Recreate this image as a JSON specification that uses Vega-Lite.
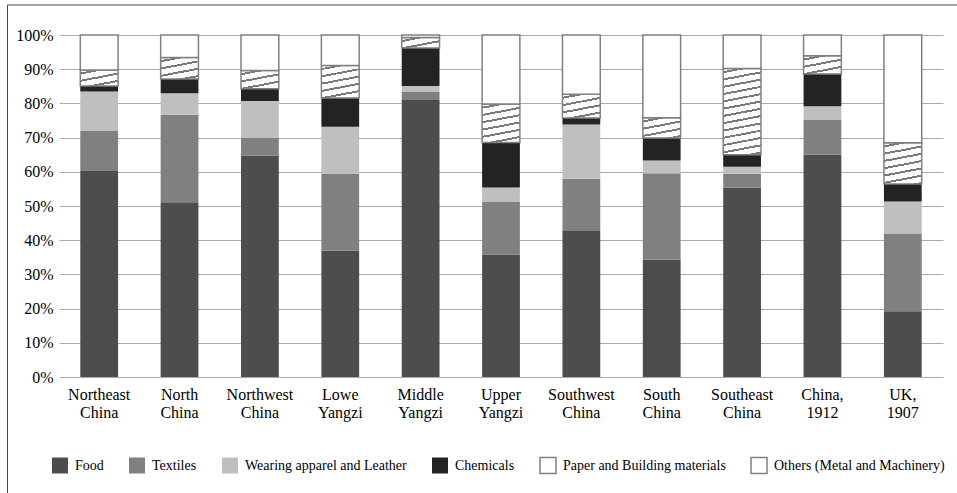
{
  "$schema": "https://vega.github.io/schema/vega-lite/v6.json",
  "autosize": {"type": "none"},
  "width": 884,
  "height": 342,
  "padding": {"left": 59, "top": 35, "right": 14, "bottom": 116},
  "background": "#ffffff",
  "config": {"view": {"stroke": null}, "font": "Liberation Serif"},
  "datasets": {
    "categories": [
      {"category": "Food", "rank": 1},
      {"category": "Textiles", "rank": 2},
      {"category": "Wearing apparel and Leather", "rank": 3},
      {"category": "Chemicals", "rank": 4},
      {"category": "Paper and Building materials", "rank": 5},
      {"category": "Others (Metal and Machinery)", "rank": 6}
    ]
  },
  "data": {"values": [
    {"region": "Northeast China", "category": "Food", "share": 60.2},
    {"region": "Northeast China", "category": "Textiles", "share": 11.7},
    {"region": "Northeast China", "category": "Wearing apparel and Leather", "share": 11.6},
    {"region": "Northeast China", "category": "Chemicals", "share": 1.6},
    {"region": "Northeast China", "category": "Paper and Building materials", "share": 4.7},
    {"region": "Northeast China", "category": "Others (Metal and Machinery)", "share": 10.2},
    {"region": "North China", "category": "Food", "share": 51.1},
    {"region": "North China", "category": "Textiles", "share": 25.6},
    {"region": "North China", "category": "Wearing apparel and Leather", "share": 6.3},
    {"region": "North China", "category": "Chemicals", "share": 4.1},
    {"region": "North China", "category": "Paper and Building materials", "share": 6.3},
    {"region": "North China", "category": "Others (Metal and Machinery)", "share": 6.6},
    {"region": "Northwest China", "category": "Food", "share": 64.7},
    {"region": "Northwest China", "category": "Textiles", "share": 5.3},
    {"region": "Northwest China", "category": "Wearing apparel and Leather", "share": 10.7},
    {"region": "Northwest China", "category": "Chemicals", "share": 3.6},
    {"region": "Northwest China", "category": "Paper and Building materials", "share": 5.3},
    {"region": "Northwest China", "category": "Others (Metal and Machinery)", "share": 10.4},
    {"region": "Lowe Yangzi", "category": "Food", "share": 36.9},
    {"region": "Lowe Yangzi", "category": "Textiles", "share": 22.6},
    {"region": "Lowe Yangzi", "category": "Wearing apparel and Leather", "share": 13.7},
    {"region": "Lowe Yangzi", "category": "Chemicals", "share": 8.4},
    {"region": "Lowe Yangzi", "category": "Paper and Building materials", "share": 9.5},
    {"region": "Lowe Yangzi", "category": "Others (Metal and Machinery)", "share": 8.9},
    {"region": "Middle Yangzi", "category": "Food", "share": 81.0},
    {"region": "Middle Yangzi", "category": "Textiles", "share": 2.3},
    {"region": "Middle Yangzi", "category": "Wearing apparel and Leather", "share": 1.8},
    {"region": "Middle Yangzi", "category": "Chemicals", "share": 11.1},
    {"region": "Middle Yangzi", "category": "Paper and Building materials", "share": 3.1},
    {"region": "Middle Yangzi", "category": "Others (Metal and Machinery)", "share": 0.7},
    {"region": "Upper Yangzi", "category": "Food", "share": 35.8},
    {"region": "Upper Yangzi", "category": "Textiles", "share": 15.5},
    {"region": "Upper Yangzi", "category": "Wearing apparel and Leather", "share": 4.1},
    {"region": "Upper Yangzi", "category": "Chemicals", "share": 13.2},
    {"region": "Upper Yangzi", "category": "Paper and Building materials", "share": 11.2},
    {"region": "Upper Yangzi", "category": "Others (Metal and Machinery)", "share": 20.2},
    {"region": "Southwest China", "category": "Food", "share": 42.7},
    {"region": "Southwest China", "category": "Textiles", "share": 15.3},
    {"region": "Southwest China", "category": "Wearing apparel and Leather", "share": 15.8},
    {"region": "Southwest China", "category": "Chemicals", "share": 1.9},
    {"region": "Southwest China", "category": "Paper and Building materials", "share": 7.0},
    {"region": "Southwest China", "category": "Others (Metal and Machinery)", "share": 17.3},
    {"region": "South China", "category": "Food", "share": 34.3},
    {"region": "South China", "category": "Textiles", "share": 25.3},
    {"region": "South China", "category": "Wearing apparel and Leather", "share": 3.7},
    {"region": "South China", "category": "Chemicals", "share": 6.6},
    {"region": "South China", "category": "Paper and Building materials", "share": 5.9},
    {"region": "South China", "category": "Others (Metal and Machinery)", "share": 24.2},
    {"region": "Southeast China", "category": "Food", "share": 55.3},
    {"region": "Southeast China", "category": "Textiles", "share": 4.1},
    {"region": "Southeast China", "category": "Wearing apparel and Leather", "share": 2.1},
    {"region": "Southeast China", "category": "Chemicals", "share": 3.5},
    {"region": "Southeast China", "category": "Paper and Building materials", "share": 25.2},
    {"region": "Southeast China", "category": "Others (Metal and Machinery)", "share": 9.8},
    {"region": "China, 1912", "category": "Food", "share": 65.0},
    {"region": "China, 1912", "category": "Textiles", "share": 10.3},
    {"region": "China, 1912", "category": "Wearing apparel and Leather", "share": 3.9},
    {"region": "China, 1912", "category": "Chemicals", "share": 9.4},
    {"region": "China, 1912", "category": "Paper and Building materials", "share": 5.3},
    {"region": "China, 1912", "category": "Others (Metal and Machinery)", "share": 6.1},
    {"region": "UK, 1907", "category": "Food", "share": 19.2},
    {"region": "UK, 1907", "category": "Textiles", "share": 22.6},
    {"region": "UK, 1907", "category": "Wearing apparel and Leather", "share": 9.5},
    {"region": "UK, 1907", "category": "Chemicals", "share": 5.1},
    {"region": "UK, 1907", "category": "Paper and Building materials", "share": 12.1},
    {"region": "UK, 1907", "category": "Others (Metal and Machinery)", "share": 31.5}
  ]},
  "transform": [
    {"lookup": "category", "from": {"data": {"name": "categories"}, "key": "category", "fields": ["rank"]}}
  ],
  "mark": {"type": "bar", "strokeWidth": 1.5},
  "encoding": {
    "x": {
      "field": "region", "type": "nominal", "sort": null,
      "scale": {"paddingInner": 0.53, "paddingOuter": 0.265},
      "axis": {"title": null, "labelAngle": 0, "labelExpr": "split(datum.label, ' ')", "labelFont": "Liberation Serif", "labelFontSize": 16, "labelColor": "#000000", "labelLineHeight": 18, "labelPadding": 9, "ticks": false, "domain": false}
    },
    "y": {
      "field": "share", "type": "quantitative", "stack": "normalize",
      "scale": {"domain": [0, 1]},
      "axis": {"title": null, "format": ".0%", "values": [0, 0.1, 0.2, 0.3, 0.4, 0.5, 0.6, 0.7, 0.8, 0.9, 1], "grid": true, "gridColor": "#aaaaaa", "gridWidth": 1.2, "domain": false, "ticks": false, "labelPadding": 6, "labelFont": "Liberation Serif", "labelFontSize": 16, "labelColor": "#000000"}
    },
    "order": {"field": "rank", "type": "quantitative", "sort": "ascending"},
    "fill": {
      "field": "category", "type": "nominal",
      "sort": ["Food", "Textiles", "Wearing apparel and Leather", "Chemicals", "Paper and Building materials", "Others (Metal and Machinery)"],
      "scale": {"domain": ["Food", "Textiles", "Wearing apparel and Leather", "Chemicals", "Paper and Building materials", "Others (Metal and Machinery)"], "range": ["#4d4d4d", "#808080", "#bfbfbf", "#232323", "#ffffff", "#ffffff"]},
      "condition": [
        {"test": "datum.category === 'Paper and Building materials' && datum.region === 'Northeast China'", "value": {"gradient": "linear", "x1": 0, "y1": 0, "x2": 0.539, "y2": 1.206, "stops": [
          {"offset": 0, "color": "#ffffff"}, {"offset": 0.114, "color": "#ffffff"}, {"offset": 0.114, "color": "#7a7a7a"}, {"offset": 0.2, "color": "#7a7a7a"}, {"offset": 0.2, "color": "#ffffff"},
          {"offset": 0.427, "color": "#ffffff"}, {"offset": 0.427, "color": "#7a7a7a"}, {"offset": 0.513, "color": "#7a7a7a"}, {"offset": 0.513, "color": "#ffffff"},
          {"offset": 0.74, "color": "#ffffff"}, {"offset": 0.74, "color": "#7a7a7a"}, {"offset": 0.826, "color": "#7a7a7a"}, {"offset": 0.826, "color": "#ffffff"}, {"offset": 1, "color": "#ffffff"}]}},
        {"test": "datum.category === 'Paper and Building materials' && datum.region === 'North China'", "value": {"gradient": "linear", "x1": 0, "y1": 0, "x2": 0.402, "y2": 1.2, "stops": [
          {"offset": 0, "color": "#ffffff"}, {"offset": 0.092, "color": "#ffffff"}, {"offset": 0.092, "color": "#7a7a7a"}, {"offset": 0.162, "color": "#7a7a7a"}, {"offset": 0.162, "color": "#ffffff"},
          {"offset": 0.347, "color": "#ffffff"}, {"offset": 0.347, "color": "#7a7a7a"}, {"offset": 0.416, "color": "#7a7a7a"}, {"offset": 0.416, "color": "#ffffff"},
          {"offset": 0.601, "color": "#ffffff"}, {"offset": 0.601, "color": "#7a7a7a"}, {"offset": 0.671, "color": "#7a7a7a"}, {"offset": 0.671, "color": "#ffffff"},
          {"offset": 0.855, "color": "#ffffff"}, {"offset": 0.855, "color": "#7a7a7a"}, {"offset": 0.925, "color": "#7a7a7a"}, {"offset": 0.925, "color": "#ffffff"}, {"offset": 1, "color": "#ffffff"}]}},
        {"test": "datum.category === 'Paper and Building materials' && (datum.region === 'Northwest China' || datum.region === 'China, 1912')", "value": {"gradient": "linear", "x1": 0, "y1": 0, "x2": 0.48, "y2": 1.207, "stops": [
          {"offset": 0, "color": "#ffffff"}, {"offset": 0.105, "color": "#ffffff"}, {"offset": 0.105, "color": "#7a7a7a"}, {"offset": 0.184, "color": "#7a7a7a"}, {"offset": 0.184, "color": "#ffffff"},
          {"offset": 0.393, "color": "#ffffff"}, {"offset": 0.393, "color": "#7a7a7a"}, {"offset": 0.472, "color": "#7a7a7a"}, {"offset": 0.472, "color": "#ffffff"},
          {"offset": 0.682, "color": "#ffffff"}, {"offset": 0.682, "color": "#7a7a7a"}, {"offset": 0.761, "color": "#7a7a7a"}, {"offset": 0.761, "color": "#ffffff"}, {"offset": 1, "color": "#ffffff"}]}},
        {"test": "datum.category === 'Paper and Building materials' && datum.region === 'Lowe Yangzi'", "value": {"gradient": "linear", "x1": 0, "y1": 0, "x2": 0.258, "y2": 1.164, "stops": [
          {"offset": 0, "color": "#ffffff"}, {"offset": 0.067, "color": "#ffffff"}, {"offset": 0.067, "color": "#7a7a7a"}, {"offset": 0.117, "color": "#7a7a7a"}, {"offset": 0.117, "color": "#ffffff"},
          {"offset": 0.251, "color": "#ffffff"}, {"offset": 0.251, "color": "#7a7a7a"}, {"offset": 0.301, "color": "#7a7a7a"}, {"offset": 0.301, "color": "#ffffff"},
          {"offset": 0.435, "color": "#ffffff"}, {"offset": 0.435, "color": "#7a7a7a"}, {"offset": 0.485, "color": "#7a7a7a"}, {"offset": 0.485, "color": "#ffffff"},
          {"offset": 0.618, "color": "#ffffff"}, {"offset": 0.618, "color": "#7a7a7a"}, {"offset": 0.669, "color": "#7a7a7a"}, {"offset": 0.669, "color": "#ffffff"},
          {"offset": 0.802, "color": "#ffffff"}, {"offset": 0.802, "color": "#7a7a7a"}, {"offset": 0.853, "color": "#7a7a7a"}, {"offset": 0.853, "color": "#ffffff"}, {"offset": 1, "color": "#ffffff"}]}},
        {"test": "datum.category === 'Paper and Building materials' && datum.region === 'Middle Yangzi'", "value": {"gradient": "linear", "x1": 0, "y1": 0, "x2": 0.78, "y2": 1.149, "stops": [
          {"offset": 0, "color": "#ffffff"}, {"offset": 0.149, "color": "#ffffff"}, {"offset": 0.149, "color": "#7a7a7a"}, {"offset": 0.261, "color": "#7a7a7a"}, {"offset": 0.261, "color": "#ffffff"},
          {"offset": 0.559, "color": "#ffffff"}, {"offset": 0.559, "color": "#7a7a7a"}, {"offset": 0.671, "color": "#7a7a7a"}, {"offset": 0.671, "color": "#ffffff"}, {"offset": 1, "color": "#ffffff"}]}},
        {"test": "datum.category === 'Paper and Building materials' && datum.region === 'Upper Yangzi'", "value": {"gradient": "linear", "x1": 0, "y1": 0, "x2": 0.216, "y2": 1.147, "stops": [
          {"offset": 0, "color": "#ffffff"}, {"offset": 0.058, "color": "#ffffff"}, {"offset": 0.058, "color": "#7a7a7a"}, {"offset": 0.102, "color": "#7a7a7a"}, {"offset": 0.102, "color": "#ffffff"},
          {"offset": 0.219, "color": "#ffffff"}, {"offset": 0.219, "color": "#7a7a7a"}, {"offset": 0.263, "color": "#7a7a7a"}, {"offset": 0.263, "color": "#ffffff"},
          {"offset": 0.379, "color": "#ffffff"}, {"offset": 0.379, "color": "#7a7a7a"}, {"offset": 0.423, "color": "#7a7a7a"}, {"offset": 0.423, "color": "#ffffff"},
          {"offset": 0.54, "color": "#ffffff"}, {"offset": 0.54, "color": "#7a7a7a"}, {"offset": 0.584, "color": "#7a7a7a"}, {"offset": 0.584, "color": "#ffffff"},
          {"offset": 0.7, "color": "#ffffff"}, {"offset": 0.7, "color": "#7a7a7a"}, {"offset": 0.744, "color": "#7a7a7a"}, {"offset": 0.744, "color": "#ffffff"},
          {"offset": 0.86, "color": "#ffffff"}, {"offset": 0.86, "color": "#7a7a7a"}, {"offset": 0.904, "color": "#7a7a7a"}, {"offset": 0.904, "color": "#ffffff"}, {"offset": 1, "color": "#ffffff"}]}},
        {"test": "datum.category === 'Paper and Building materials' && datum.region === 'Southwest China'", "value": {"gradient": "linear", "x1": 0, "y1": 0, "x2": 0.359, "y2": 1.193, "stops": [
          {"offset": 0, "color": "#ffffff"}, {"offset": 0.085, "color": "#ffffff"}, {"offset": 0.085, "color": "#7a7a7a"}, {"offset": 0.15, "color": "#7a7a7a"}, {"offset": 0.15, "color": "#ffffff"},
          {"offset": 0.32, "color": "#ffffff"}, {"offset": 0.32, "color": "#7a7a7a"}, {"offset": 0.384, "color": "#7a7a7a"}, {"offset": 0.384, "color": "#ffffff"},
          {"offset": 0.555, "color": "#ffffff"}, {"offset": 0.555, "color": "#7a7a7a"}, {"offset": 0.619, "color": "#7a7a7a"}, {"offset": 0.619, "color": "#ffffff"},
          {"offset": 0.789, "color": "#ffffff"}, {"offset": 0.789, "color": "#7a7a7a"}, {"offset": 0.854, "color": "#7a7a7a"}, {"offset": 0.854, "color": "#ffffff"}, {"offset": 1, "color": "#ffffff"}]}},
        {"test": "datum.category === 'Paper and Building materials' && datum.region === 'South China'", "value": {"gradient": "linear", "x1": 0, "y1": 0, "x2": 0.428, "y2": 1.203, "stops": [
          {"offset": 0, "color": "#ffffff"}, {"offset": 0.097, "color": "#ffffff"}, {"offset": 0.097, "color": "#7a7a7a"}, {"offset": 0.17, "color": "#7a7a7a"}, {"offset": 0.17, "color": "#ffffff"},
          {"offset": 0.363, "color": "#ffffff"}, {"offset": 0.363, "color": "#7a7a7a"}, {"offset": 0.436, "color": "#7a7a7a"}, {"offset": 0.436, "color": "#ffffff"},
          {"offset": 0.63, "color": "#ffffff"}, {"offset": 0.63, "color": "#7a7a7a"}, {"offset": 0.703, "color": "#7a7a7a"}, {"offset": 0.703, "color": "#ffffff"},
          {"offset": 0.896, "color": "#ffffff"}, {"offset": 0.896, "color": "#7a7a7a"}, {"offset": 0.969, "color": "#7a7a7a"}, {"offset": 0.969, "color": "#ffffff"}, {"offset": 1, "color": "#ffffff"}]}},
        {"test": "datum.category === 'Paper and Building materials' && datum.region === 'Southeast China'", "value": {"gradient": "linear", "x1": 0, "y1": 0, "x2": 0.0899, "y2": 1.076, "stops": [
          {"offset": 0, "color": "#ffffff"}, {"offset": 0.028, "color": "#ffffff"}, {"offset": 0.028, "color": "#7a7a7a"}, {"offset": 0.05, "color": "#7a7a7a"}, {"offset": 0.05, "color": "#ffffff"},
          {"offset": 0.107, "color": "#ffffff"}, {"offset": 0.107, "color": "#7a7a7a"}, {"offset": 0.128, "color": "#7a7a7a"}, {"offset": 0.128, "color": "#ffffff"},
          {"offset": 0.185, "color": "#ffffff"}, {"offset": 0.185, "color": "#7a7a7a"}, {"offset": 0.206, "color": "#7a7a7a"}, {"offset": 0.206, "color": "#ffffff"},
          {"offset": 0.263, "color": "#ffffff"}, {"offset": 0.263, "color": "#7a7a7a"}, {"offset": 0.284, "color": "#7a7a7a"}, {"offset": 0.284, "color": "#ffffff"},
          {"offset": 0.341, "color": "#ffffff"}, {"offset": 0.341, "color": "#7a7a7a"}, {"offset": 0.362, "color": "#7a7a7a"}, {"offset": 0.362, "color": "#ffffff"},
          {"offset": 0.419, "color": "#ffffff"}, {"offset": 0.419, "color": "#7a7a7a"}, {"offset": 0.441, "color": "#7a7a7a"}, {"offset": 0.441, "color": "#ffffff"},
          {"offset": 0.497, "color": "#ffffff"}, {"offset": 0.497, "color": "#7a7a7a"}, {"offset": 0.519, "color": "#7a7a7a"}, {"offset": 0.519, "color": "#ffffff"},
          {"offset": 0.575, "color": "#ffffff"}, {"offset": 0.575, "color": "#7a7a7a"}, {"offset": 0.597, "color": "#7a7a7a"}, {"offset": 0.597, "color": "#ffffff"},
          {"offset": 0.654, "color": "#ffffff"}, {"offset": 0.654, "color": "#7a7a7a"}, {"offset": 0.675, "color": "#7a7a7a"}, {"offset": 0.675, "color": "#ffffff"},
          {"offset": 0.732, "color": "#ffffff"}, {"offset": 0.732, "color": "#7a7a7a"}, {"offset": 0.753, "color": "#7a7a7a"}, {"offset": 0.753, "color": "#ffffff"},
          {"offset": 0.81, "color": "#ffffff"}, {"offset": 0.81, "color": "#7a7a7a"}, {"offset": 0.831, "color": "#7a7a7a"}, {"offset": 0.831, "color": "#ffffff"},
          {"offset": 0.888, "color": "#ffffff"}, {"offset": 0.888, "color": "#7a7a7a"}, {"offset": 0.91, "color": "#7a7a7a"}, {"offset": 0.91, "color": "#ffffff"},
          {"offset": 0.966, "color": "#ffffff"}, {"offset": 0.966, "color": "#7a7a7a"}, {"offset": 0.988, "color": "#7a7a7a"}, {"offset": 0.988, "color": "#ffffff"}, {"offset": 1, "color": "#ffffff"}]}},
        {"test": "datum.category === 'Paper and Building materials' && datum.region === 'UK, 1907'", "value": {"gradient": "linear", "x1": 0, "y1": 0, "x2": 0.198, "y2": 1.139, "stops": [
          {"offset": 0, "color": "#ffffff"}, {"offset": 0.055, "color": "#ffffff"}, {"offset": 0.055, "color": "#7a7a7a"}, {"offset": 0.096, "color": "#7a7a7a"}, {"offset": 0.096, "color": "#ffffff"},
          {"offset": 0.205, "color": "#ffffff"}, {"offset": 0.205, "color": "#7a7a7a"}, {"offset": 0.246, "color": "#7a7a7a"}, {"offset": 0.246, "color": "#ffffff"},
          {"offset": 0.355, "color": "#ffffff"}, {"offset": 0.355, "color": "#7a7a7a"}, {"offset": 0.396, "color": "#7a7a7a"}, {"offset": 0.396, "color": "#ffffff"},
          {"offset": 0.505, "color": "#ffffff"}, {"offset": 0.505, "color": "#7a7a7a"}, {"offset": 0.546, "color": "#7a7a7a"}, {"offset": 0.546, "color": "#ffffff"},
          {"offset": 0.655, "color": "#ffffff"}, {"offset": 0.655, "color": "#7a7a7a"}, {"offset": 0.697, "color": "#7a7a7a"}, {"offset": 0.697, "color": "#ffffff"},
          {"offset": 0.806, "color": "#ffffff"}, {"offset": 0.806, "color": "#7a7a7a"}, {"offset": 0.847, "color": "#7a7a7a"}, {"offset": 0.847, "color": "#ffffff"},
          {"offset": 0.956, "color": "#ffffff"}, {"offset": 0.956, "color": "#7a7a7a"}, {"offset": 0.997, "color": "#7a7a7a"}, {"offset": 0.997, "color": "#ffffff"}, {"offset": 1, "color": "#ffffff"}]}}
      ],
      "legend": {
        "orient": "none", "legendX": -52, "legendY": -30.5, "direction": "horizontal",
        "title": " ", "titleFontSize": 1, "titlePadding": 407,
        "padding": 44, "strokeColor": "#4a4a4a",
        "symbolType": "square", "symbolSize": 256, "symbolStrokeWidth": 1.5,
        "labelFont": "Liberation Serif", "labelFontSize": 14, "labelColor": "#000000", "labelOffset": 6, "labelLimit": 400, "columnPadding": 22,
        "encode": {
          "symbols": {
            "update": {
              "fill": [
                {"test": "datum.value === 'Paper and Building materials'", "value": {"gradient": "linear", "x1": 0, "y1": 0, "x2": 1, "y2": 1, "stops": [
                  {"offset": 0, "color": "#ffffff"}, {"offset": 0.43, "color": "#ffffff"}, {"offset": 0.43, "color": "#7a7a7a"}, {"offset": 0.57, "color": "#7a7a7a"}, {"offset": 0.57, "color": "#ffffff"}, {"offset": 1, "color": "#ffffff"}]}},
                {"scale": "fill", "field": "value"}
              ]
            }
          }
        }
      }
    },
    "stroke": {
      "field": "category", "type": "nominal",
      "sort": ["Food", "Textiles", "Wearing apparel and Leather", "Chemicals", "Paper and Building materials", "Others (Metal and Machinery)"],
      "scale": {"domain": ["Food", "Textiles", "Wearing apparel and Leather", "Chemicals", "Paper and Building materials", "Others (Metal and Machinery)"], "range": ["transparent", "transparent", "transparent", "transparent", "#808080", "#808080"]}
    }
  }
}
